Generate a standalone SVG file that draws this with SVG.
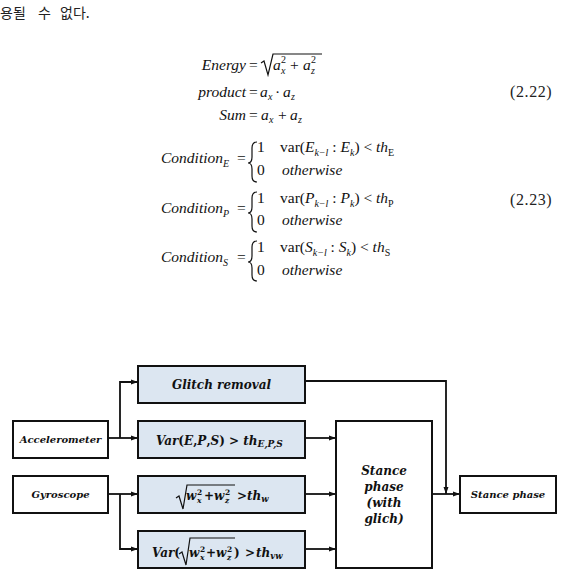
<svg xmlns="http://www.w3.org/2000/svg" width="561" height="582" viewBox="0 0 561 582">
<style>
.eq{font-family:'Liberation Serif','Times New Roman','DejaVu Serif',serif;font-size:15.5px;fill:#111}
.it{font-style:italic}
.sm{font-size:10px}
.num{font-family:'Liberation Serif','DejaVu Serif',serif;font-size:16px;fill:#222;letter-spacing:0.6px}
.kr{font-family:'Noto Sans CJK KR','Noto Sans CJK SC',sans-serif;font-size:14px;fill:#222}
.box{stroke:#111;stroke-width:2;fill:#fff}
.blue{fill:#dce6f1}
.lbl{font-family:'DejaVu Serif','Liberation Serif',serif;font-weight:bold;font-style:italic;fill:#111}
.up{font-style:normal}
.con{fill:none;stroke:#111;stroke-width:1.8}
.rad{fill:none;stroke:#111;stroke-width:1.2}
</style>
<defs>
<marker id="ah" markerWidth="7" markerHeight="6" refX="7" refY="3" orient="auto" markerUnits="userSpaceOnUse"><path d="M0,0.5 L7,3 L0,5.5 Z" fill="#111"/></marker>
</defs>

<g id="intro">
<text class="kr" x="0" y="18">용될</text>
<text class="kr" x="38" y="18">수</text>
<text class="kr" x="60" y="18">없다.</text>
</g>

<g id="eq222" font-family="Liberation Serif, Times New Roman, serif">
<text class="eq it" x="246" y="70" text-anchor="end">Energy</text>
<text class="eq" x="249" y="70">=</text>
<polyline class="rad" points="261,63 264,61 268,75 273,54 322,54"/>
<text class="eq it" x="273" y="70">a</text>
<text class="eq sm" x="281" y="63">2</text>
<text class="eq it sm" x="281" y="74">x</text>
<text class="eq" x="290" y="70">+</text>
<text class="eq it" x="303" y="70">a</text>
<text class="eq sm" x="311" y="63">2</text>
<text class="eq it sm" x="311" y="74">z</text>

<text class="eq it" x="246" y="97" text-anchor="end">product</text>
<text class="eq" x="249" y="97">=</text>
<text class="eq it" x="260" y="97">a</text>
<text class="eq it sm" x="268" y="100">x</text>
<text class="eq" x="275" y="97">·</text>
<text class="eq it" x="283" y="97">a</text>
<text class="eq it sm" x="291" y="100">z</text>

<text class="eq it" x="246" y="120" text-anchor="end">Sum</text>
<text class="eq" x="249" y="120">=</text>
<text class="eq it" x="261" y="120">a</text>
<text class="eq it sm" x="269" y="123">x</text>
<text class="eq" x="278" y="120">+</text>
<text class="eq it" x="290" y="120">a</text>
<text class="eq it sm" x="298" y="123">z</text>

<text class="num" x="510" y="97">(2.22)</text>
</g>

<g id="eq223" font-family="Liberation Serif, Times New Roman, serif">
<text class="eq it" x="161" y="163">Condition<tspan class="sm" dy="4">E</tspan></text>
<text class="eq" x="237" y="163">=</text>
<path class="rad" d="M257,142 Q252,142 252,148 V157 Q252,163 248,163 Q252,163 252,169 V176 Q252,182 257,182"/>
<text class="eq" x="257" y="152">1</text>
<text class="eq" x="280" y="152">var(<tspan class="it">E</tspan><tspan class="it sm" dy="4">k−l</tspan><tspan dy="-4"> : </tspan><tspan class="it">E</tspan><tspan class="it sm" dy="4">k</tspan><tspan dy="-4">) &lt; </tspan><tspan class="it">th</tspan><tspan class="sm" dy="4">E</tspan></text>
<text class="eq" x="257" y="175">0</text>
<text class="eq it" x="282" y="175">otherwise</text>

<text class="eq it" x="161" y="213">Condition<tspan class="sm" dy="4">P</tspan></text>
<text class="eq" x="237" y="213">=</text>
<path class="rad" d="M257,192 Q252,192 252,198 V207 Q252,213 248,213 Q252,213 252,219 V226 Q252,232 257,232"/>
<text class="eq" x="257" y="203">1</text>
<text class="eq" x="280" y="203">var(<tspan class="it">P</tspan><tspan class="it sm" dy="4">k−l</tspan><tspan dy="-4"> : </tspan><tspan class="it">P</tspan><tspan class="it sm" dy="4">k</tspan><tspan dy="-4">) &lt; </tspan><tspan class="it">th</tspan><tspan class="sm" dy="4">P</tspan></text>
<text class="eq" x="257" y="225">0</text>
<text class="eq it" x="282" y="225">otherwise</text>

<text class="eq it" x="161" y="262">Condition<tspan class="sm" dy="4">S</tspan></text>
<text class="eq" x="237" y="262">=</text>
<path class="rad" d="M257,241 Q252,241 252,247 V256 Q252,262 248,262 Q252,262 252,268 V275 Q252,281 257,281"/>
<text class="eq" x="257" y="252">1</text>
<text class="eq" x="280" y="252">var(<tspan class="it">S</tspan><tspan class="it sm" dy="4">k−l</tspan><tspan dy="-4"> : </tspan><tspan class="it">S</tspan><tspan class="it sm" dy="4">k</tspan><tspan dy="-4">) &lt; </tspan><tspan class="it">th</tspan><tspan class="sm" dy="4">S</tspan></text>
<text class="eq" x="257" y="275">0</text>
<text class="eq it" x="282" y="275">otherwise</text>

<text class="num" x="510" y="205">(2.23)</text>
</g>

<g id="connectors">
<path class="con" d="M108,438 H138" marker-end="url(#ah)"/>
<path class="con" d="M120,438 V382 H138" marker-end="url(#ah)"/>
<path class="con" d="M108,494 H138" marker-end="url(#ah)"/>
<path class="con" d="M120,494 V549 H138" marker-end="url(#ah)"/>
<path class="con" d="M305,438 H336" marker-end="url(#ah)"/>
<path class="con" d="M305,494 H336" marker-end="url(#ah)"/>
<path class="con" d="M305,549 H336" marker-end="url(#ah)"/>
<path class="con" d="M305,381 H446 V494" marker-end="url(#ah)"/>
<path class="con" d="M432,494 H460" marker-end="url(#ah)"/>
</g>

<g id="accelerometer" font-family="DejaVu Serif, serif">
<rect class="box" x="13" y="421" width="95" height="37"/>
<text class="lbl" x="60.5" y="443" font-size="10" text-anchor="middle">Accelerometer</text>
</g>

<g id="gyroscope" font-family="DejaVu Serif, serif">
<rect class="box" x="13" y="476" width="95" height="37"/>
<text class="lbl" x="60.5" y="498" font-size="10" text-anchor="middle">Gyroscope</text>
</g>

<g id="glitch-removal" font-family="DejaVu Serif, serif">
<rect class="box blue" x="138" y="366" width="167" height="37"/>
<text class="lbl" x="221.5" y="389" font-size="12" text-anchor="middle">Glitch removal</text>
</g>

<g id="var-eps" font-family="DejaVu Serif, serif">
<rect class="box blue" x="138" y="421" width="167" height="37"/>
<text class="lbl" x="156" y="445" font-size="12">Var<tspan class="up">(</tspan>E<tspan class="up">,</tspan>P<tspan class="up">,</tspan>S<tspan class="up">) &gt; </tspan>th<tspan font-size="9" dy="2">E,P,S</tspan></text>
</g>

<g id="sqrt-w" font-family="DejaVu Serif, serif">
<rect class="box blue" x="138" y="476" width="167" height="37"/>
<polyline class="rad" points="176,498 179,496 183,509 187,485 235,485"/>
<text class="lbl" x="186" y="500" font-size="12">w</text>
<text class="lbl up" x="197" y="495" font-size="7.5">2</text>
<text class="lbl" x="197" y="503" font-size="7.5">x</text>
<text class="lbl up" x="204" y="500" font-size="12">+</text>
<text class="lbl" x="214" y="500" font-size="12">w</text>
<text class="lbl up" x="225" y="495" font-size="7.5">2</text>
<text class="lbl" x="225" y="503" font-size="7.5">z</text>
<text class="lbl up" x="237" y="500" font-size="12">&gt;</text>
<text class="lbl" x="247" y="500" font-size="12">th<tspan font-size="8.5" dy="2">w</tspan></text>
</g>

<g id="var-sqrt-w" font-family="DejaVu Serif, serif">
<rect class="box blue" x="138" y="531" width="167" height="37"/>
<text class="lbl" x="152" y="557" font-size="12">Var<tspan class="up">(</tspan></text>
<polyline class="rad" points="179,554 182,552 186,565 190,538 235,538"/>
<text class="lbl" x="189" y="557" font-size="12">w</text>
<text class="lbl up" x="200" y="552" font-size="7.5">2</text>
<text class="lbl" x="200" y="560" font-size="7.5">x</text>
<text class="lbl up" x="206" y="557" font-size="12">+</text>
<text class="lbl" x="216" y="557" font-size="12">w</text>
<text class="lbl up" x="227" y="552" font-size="7.5">2</text>
<text class="lbl" x="227" y="560" font-size="7.5">z</text>
<text class="lbl up" x="234" y="557" font-size="12">)</text>
<text class="lbl up" x="245" y="557" font-size="12">&gt;</text>
<text class="lbl" x="256" y="557" font-size="12">th<tspan font-size="8.5" dy="2">vw</tspan></text>
</g>

<g id="stance-with-glich" font-family="DejaVu Serif, serif">
<rect class="box" x="336" y="421" width="96" height="147"/>
<text class="lbl" font-size="12" text-anchor="middle"><tspan x="384" y="475">Stance</tspan><tspan x="384" y="491">phase</tspan><tspan x="384" y="507">(with</tspan><tspan x="384" y="523">glich)</tspan></text>
</g>

<g id="stance-phase" font-family="DejaVu Serif, serif">
<rect class="box" x="460" y="476" width="96" height="37"/>
<text class="lbl" x="508" y="498" font-size="10" text-anchor="middle">Stance phase</text>
</g>
</svg>
